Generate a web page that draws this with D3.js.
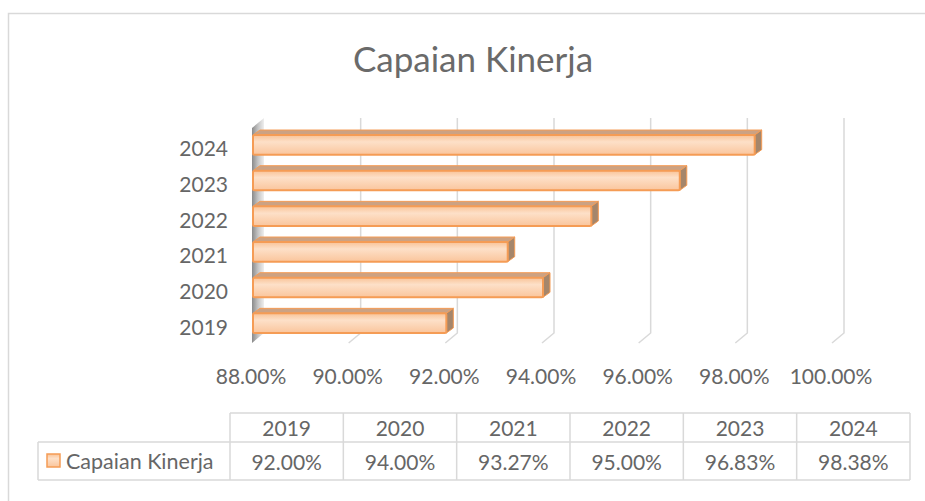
<!DOCTYPE html>
<html>
<head>
<meta charset="utf-8">
<script src="https://cdn.jsdelivr.net/npm/d3@7"></script>
<style>
  html, body { margin: 0; padding: 0; background: #fff; }
  svg { display: block; }
  text { font-family: Lato, "Open Sans", sans-serif; fill: #666666; }
</style>
</head>
<body>
<svg id="chart" width="925" height="501"></svg>
<script>
const title = "Capaian Kinerja";
const seriesName = "Capaian Kinerja";
const categories = ["2019", "2020", "2021", "2022", "2023", "2024"];
const values = [92.00, 94.00, 93.27, 95.00, 96.83, 98.38];
const ticks = [88, 90, 92, 94, 96, 98, 100];
const tableLabels = ["92.00%", "94.00%", "93.27%", "95.00%", "96.83%", "98.38%"];

const svg = d3.select("#chart");

// chart border
svg.append("rect").attr("x", 8.5).attr("y", 13.5).attr("width", 930).attr("height", 500)
  .attr("fill", "#fff").attr("stroke", "#d9d9d9").attr("stroke-width", 1.5);

// title
svg.append("text").attr("x", 473).attr("y", 72).attr("text-anchor", "middle")
  .style("font-size", "35px").style("fill", "#6a6a6a").text(title);

const defs = svg.append("defs");
const wallGrad = defs.append("linearGradient").attr("id", "wallGrad")
  .attr("x1", "0").attr("x2", "1").attr("y1", "0").attr("y2", "0");
wallGrad.append("stop").attr("offset", "0").attr("stop-color", "#8a8a8a");
wallGrad.append("stop").attr("offset", "0.5").attr("stop-color", "#c4c4c4");
wallGrad.append("stop").attr("offset", "1").attr("stop-color", "#efefef");

const barGrad = defs.append("linearGradient").attr("id", "barGrad")
  .attr("x1", "0").attr("x2", "0").attr("y1", "0").attr("y2", "1");
barGrad.append("stop").attr("offset", "0").attr("stop-color", "#f9c397");
barGrad.append("stop").attr("offset", "0.35").attr("stop-color", "#fde0c8");
barGrad.append("stop").attr("offset", "1").attr("stop-color", "#fac59c");

// scales
const x = d3.scaleLinear().domain([88, 100]).range([253, 833]);
const y = d3.scaleBand().domain(categories.slice().reverse()).range([127, 341])
  .paddingInner(0.45).paddingOuter(0.225);

// 3D geometry
const wallDX = 11, wallDY = -10;   // front -> back
const backTop = 118, backBottom = 333;
const barDX = 7, barDY = -5;

// gridlines on back wall + floor
const g = svg.append("g");
ticks.filter(t => t !== ticks[0]).forEach(t => {
  const xb = x(t) + wallDX;
  g.append("path")
    .attr("d", `M${xb},${backTop} L${xb},${backBottom} L${xb - wallDX - 1},${backBottom - wallDY}`)
    .attr("fill", "none").attr("stroke", "#d9d9d9").attr("stroke-width", 1.5);
});

// side wall
const x0 = x(ticks[0]);
g.append("path")
  .attr("d", `M${x0 - 1},${backTop - wallDY} L${x0 + wallDX},${backTop} L${x0 + wallDX},${backBottom} L${x0 - 1},${backBottom - wallDY} Z`)
  .attr("fill", "url(#wallGrad)").attr("stroke", "none");

// bars
const data = categories.map((c, i) => ({ c, v: values[i] }));
const bars = svg.append("g").selectAll("g").data(data).join("g");
const bw = y.bandwidth();
bars.append("path").attr("d", d => {
  const xa = x(ticks[0]), xe = x(d.v), yt = y(d.c);
  return `M${xa},${yt} L${xa + barDX},${yt + barDY} L${xe + barDX},${yt + barDY} L${xe},${yt} Z`;
}).attr("fill", "#cca283").attr("stroke", "#f59c55").attr("stroke-width", 1).attr("stroke-linejoin", "round");
bars.append("path").attr("d", d => {
  const xe = x(d.v), yt = y(d.c);
  return `M${xe},${yt} L${xe + barDX},${yt + barDY} L${xe + barDX},${yt + bw + barDY} L${xe},${yt + bw} Z`;
}).attr("fill", "#a5866b").attr("stroke", "#f59c55").attr("stroke-width", 1).attr("stroke-linejoin", "round");
bars.append("rect")
  .attr("x", x(ticks[0])).attr("y", d => y(d.c))
  .attr("width", d => x(d.v) - x(ticks[0])).attr("height", bw)
  .attr("fill", "url(#barGrad)").attr("stroke", "#f59c55").attr("stroke-width", 2)
  .attr("rx", 1.5);

// category labels
svg.append("g").selectAll("text").data(categories).join("text")
  .attr("x", 228).attr("y", d => y(d) + bw / 2 + 3)
  .attr("text-anchor", "end").attr("dominant-baseline", "central")
  .style("font-size", "21px").text(d => d);

// x tick labels
svg.append("g").selectAll("text").data(ticks).join("text")
  .attr("x", d => x(d) - 2).attr("y", 384)
  .attr("text-anchor", "middle")
  .style("font-size", "21px").text(d => d3.format(".2f")(d) + "%");

// data table
const tx0 = 230, tx1 = 910, lx = 38;
const rowTop = 413, rowMid = 442, rowBot = 480;
const col = d3.scaleBand().domain(categories).range([tx0, tx1]);
const tg = svg.append("g").attr("stroke", "#d9d9d9").attr("stroke-width", 1.5).attr("fill", "none");
tg.append("line").attr("x1", tx0).attr("x2", tx1).attr("y1", rowTop).attr("y2", rowTop);
tg.append("line").attr("x1", lx).attr("x2", tx1).attr("y1", rowMid).attr("y2", rowMid);
tg.append("line").attr("x1", lx).attr("x2", tx1).attr("y1", rowBot).attr("y2", rowBot);
tg.append("line").attr("x1", lx).attr("x2", lx).attr("y1", rowMid).attr("y2", rowBot);
categories.forEach(c => {
  tg.append("line").attr("x1", col(c)).attr("x2", col(c)).attr("y1", rowTop).attr("y2", rowBot);
});
tg.append("line").attr("x1", tx1).attr("x2", tx1).attr("y1", rowTop).attr("y2", rowBot);

svg.append("g").selectAll("text").data(categories).join("text")
  .attr("x", d => col(d) + col.bandwidth() / 2).attr("y", (rowTop + rowMid) / 2)
  .attr("text-anchor", "middle").attr("dominant-baseline", "central")
  .style("font-size", "21px").text(d => d);
svg.append("g").selectAll("text").data(data).join("text")
  .attr("x", d => col(d.c) + col.bandwidth() / 2).attr("y", (rowMid + rowBot) / 2)
  .attr("text-anchor", "middle").attr("dominant-baseline", "central")
  .style("font-size", "21px").text((d, i) => tableLabels[i]);

// legend key
svg.append("rect").attr("x", 47).attr("y", 454).attr("width", 13).attr("height", 13)
  .attr("fill", "url(#barGrad)").attr("stroke", "#f59c55").attr("stroke-width", 1.5);
svg.append("text").attr("x", 66).attr("y", (rowMid + rowBot) / 2)
  .attr("dominant-baseline", "central").style("font-size", "21.5px").text(seriesName);
</script>
</body>
</html>
